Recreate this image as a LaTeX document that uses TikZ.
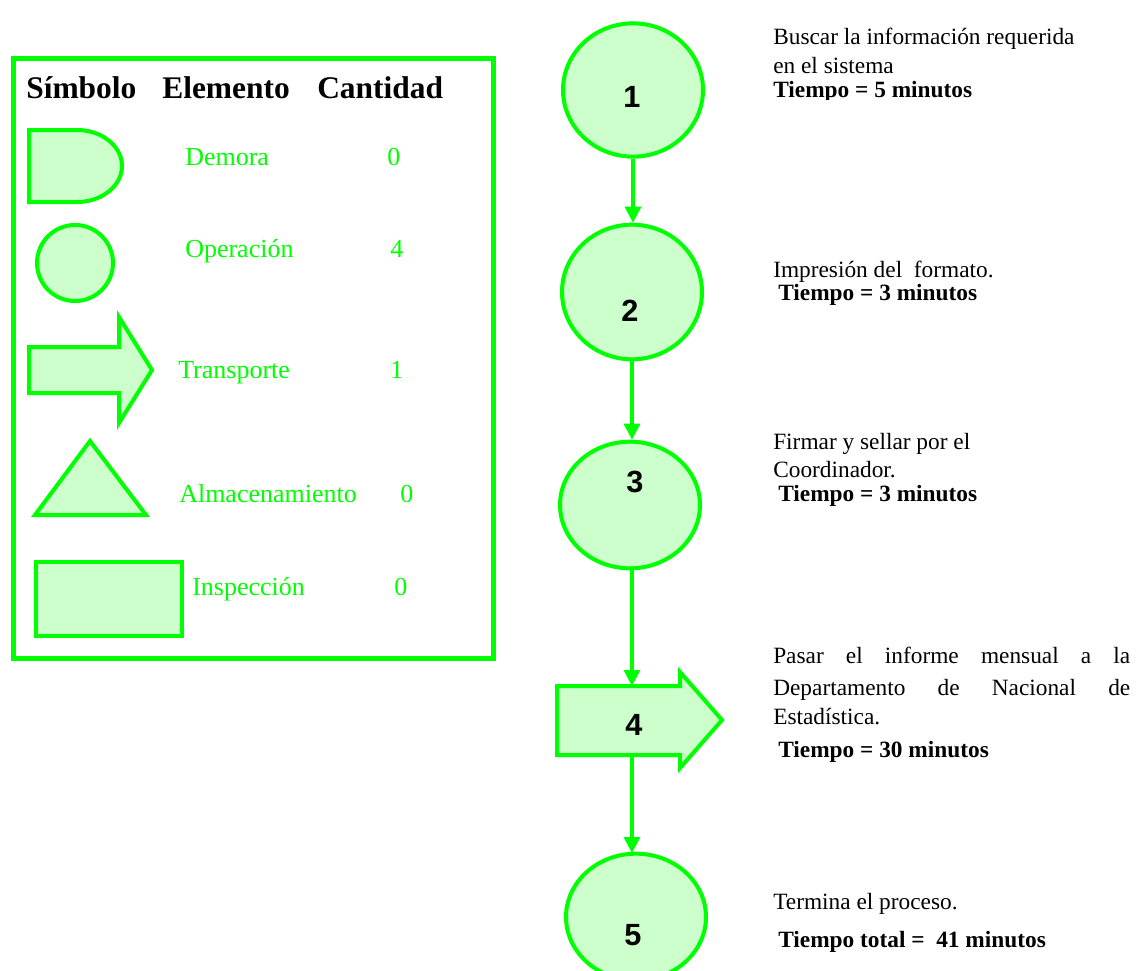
\documentclass[tikz,border=0pt]{standalone}
\usepackage{fontspec}
\setmainfont{Liberation Serif}
\newfontfamily\arialfont{Liberation Sans}
\usetikzlibrary{arrows.meta,shapes.geometric}
\definecolor{gline}{HTML}{00FF00}
\definecolor{gfill}{HTML}{CCFFCC}
\begin{document}
\begin{tikzpicture}[x=0.75pt,y=-0.75pt,
  symb/.style={draw=gline,line width=3pt,fill=gfill,line join=miter},
  flowell/.style={ellipse,draw=gline,line width=3pt,fill=gfill,inner sep=0pt,minimum width=105pt},
  num/.style={font=\arialfont\bfseries\fontsize{23}{23}\selectfont,inner sep=0pt},
  legtxt/.style={anchor=base west,inner sep=0pt,text=gline,font=\fontsize{19.5}{20}\selectfont},
  hdr/.style={anchor=base west,inner sep=0pt,font=\bfseries\fontsize{23.6}{24}\selectfont},
  desc/.style={anchor=base west,inner sep=0pt,font=\fontsize{17.5}{18}\selectfont},
  descb/.style={anchor=base west,inner sep=0pt,font=\bfseries\fontsize{17.5}{18}\selectfont},
  flowarrow/.style={draw=gline,line width=2.6pt,-{Triangle[length=12pt,width=12pt]}}]
\clip (0,0) rectangle (1143,971);

% ---------- legend ----------
\draw[gline,line width=3.75pt] (13,58) rectangle (493,658);
\node[hdr] (hA) at (26,98) {Símbolo};
\node[hdr] (hB) at (162,98) {Elemento};
\node[hdr] (hC) at (317,98) {Cantidad};

\draw[symb] (29,130) -- (77,130) arc[start angle=-90,end angle=90,x radius=45,y radius=36] -- (29,202) -- cycle;
\draw[symb] (75,263) circle[radius=38];
\draw[symb] (29,347) -- (119,347) -- (119,317) -- (152,370) -- (119,423) -- (119,393) -- (29,393) -- cycle;
\draw[symb] (90,441) -- (146,515) -- (35,515) -- cycle;
\draw[symb] (36,562) rectangle (182,636);

\node[legtxt] (lDem) at (185,165) {Demora};
\node[legtxt] (nDem) at (387,165) {0};
\node[legtxt] (lOp) at (185,257) {Operación};
\node[legtxt] (nOp) at (390,257) {4};
\node[legtxt] (lTr) at (178,378) {Transporte};
\node[legtxt] (nTr) at (390,378) {1};
\node[legtxt] (lAl) at (179,502) {Almacenamiento};
\node[legtxt] (nAl) at (400,502) {0};
\node[legtxt] (lIn) at (192,595) {Inspección};
\node[legtxt] (nIn) at (394,595) {0};

% ---------- flow ----------
\node[flowell,minimum height=100pt] (e1) at (633,90) {};
\node[num] (t1) at (632,97) {1};
\node[flowell,minimum height=101pt] (e2) at (632,292) {};
\node[num] (t2) at (630,311) {2};
\node[flowell,minimum height=95pt] (e3) at (630,505) {};
\node[num] (t3) at (635,482) {3};

\draw[symb] (557,686) -- (680,686) -- (680,672) -- (722,720) -- (680,768) -- (680,755) -- (557,755) -- cycle;
\node[inner sep=0pt,minimum width=92pt,minimum height=52pt] (s4) at (618.5,720.5) {};
\node[num] (t4) at (634,725) {4};

\node[flowell,minimum height=95pt] (e5) at (636,917) {};
\node[num] (t5) at (633,935) {5};

\coordinate (a3top) at (632,686);
\coordinate (a4bot) at (632,755);
\coordinate (a5top) at (632,853);
\draw[flowarrow] (e1.south) -- (e1.south |- e2.north);
\draw[flowarrow] (e2.south) -- (e2.south |- e3.north);
\draw[flowarrow] (e3.south -| a3top) -- (a3top);
\draw[flowarrow] (a4bot) -- (a5top);

% ---------- descriptions ----------
\begin{scope}
\clip (740,0) rectangle (1143,99);
\node[desc] (d1a) at (773,44) {Buscar la información requerida};
\node[desc] (d1b) at (773,73) {en el sistema};
\node[descb] (d1c) at (773,97) {Tiempo = 5 minutos};
\end{scope}

\node[desc] (d2a) at (773,277) {Impresión del\ \ formato.};
\node[descb] (d2b) at (778,300) {Tiempo = 3 minutos};

\node[desc] (d3a) at (773,449) {Firmar y sellar por el};
\node[desc] (d3b) at (773,477) {Coordinador.};
\node[descb] (d3c) at (778,501) {Tiempo = 3 minutos};

\node[desc] (d4a) at (773,663) {\makebox[267.75pt][s]{Pasar el informe mensual a la}};
\node[desc] (d4b) at (773,695) {\makebox[267.75pt][s]{Departamento de Nacional de}};
\node[desc] (d4c) at (773,724) {Estadística.};
\node[descb] (d4d) at (778,757) {Tiempo = 30 minutos};

\node[desc] (d5a) at (773,909) {Termina el proceso.};
\node[descb] (d5b) at (778,947) {Tiempo total =\ \ 41 minutos};
\end{tikzpicture}
\end{document}
